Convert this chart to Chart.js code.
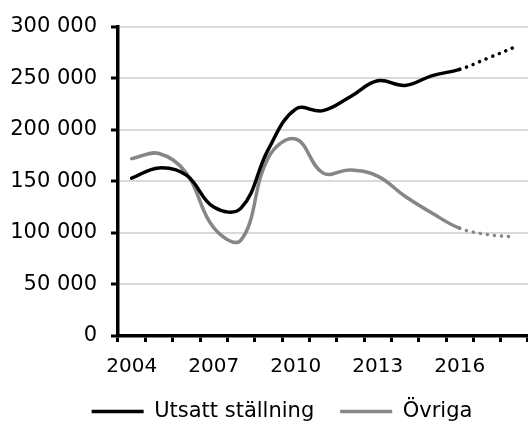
<!DOCTYPE html>
<html>
<head>
<meta charset="utf-8">
<script src="https://cdn.jsdelivr.net/npm/chart.js@4/dist/chart.umd.min.js"></script>
<style>
  html, body { margin: 0; padding: 0; background: #fff; }
  #wrap { width: 528px; height: 424px; }
</style>
</head>
<body>
<div id="wrap"><canvas id="chart"></canvas></div>
<script>
const years = ['2004','2005','2006','2007','2008','2009','2010','2011','2012','2013','2014','2015','2016','2017','2018']
const utsatt = [153000, 163000, 156000, 125000, 124000, 181000, 220000, 218500, 232000, 247500, 243000, 252500, 258500, 269000, 280000]
const ovriga = [172000, 177000, 158000, 105000, 93000, 173000, 191000, 158000, 161000, 155000, 135500, 119000, 104500, 98500, 96000]
const forecastFrom = 12 // 2016 onwards is dotted

function spaced(v) {
    return String(v).replace(/\B(?=(\d{3})+(?!\d))/g, ' ')
}

const dotted = ctx => ctx.p0DataIndex >= forecastFrom ? [0.1, 7] : undefined

// legend sits a bit right of centre in the original
const legendShift = {
    id: 'legendShift',
    afterLayout(chart) {
        chart.legend.left += 18
        chart.legend.right += 18
    }
}

Chart.defaults.font.family = 'DejaVu Sans'
Chart.defaults.font.size = 20
Chart.defaults.color = '#000'

new Chart(document.getElementById('chart'), {
    type: 'line',
    data: {
        labels: years,
        datasets: [
            {
                label: 'Utsatt ställning',
                data: utsatt,
                borderColor: '#000',
                backgroundColor: '#000',
                borderWidth: 3.5,
                borderCapStyle: 'round',
                pointRadius: 0,
                tension: 0.4,
                pointStyle: 'line',
                segment: { borderDash: dotted }
            },
            {
                label: 'Övriga',
                data: ovriga,
                borderColor: '#868686',
                backgroundColor: '#868686',
                borderWidth: 3.5,
                borderCapStyle: 'round',
                pointRadius: 0,
                tension: 0.4,
                pointStyle: 'line',
                segment: { borderDash: dotted }
            }
        ]
    },
    plugins: [legendShift],
    options: {
        responsive: true,
        maintainAspectRatio: false,
        animation: false,
        layout: { padding: { top: 12, left: 0, right: 0, bottom: -8 } },
        plugins: {
            legend: {
                position: 'bottom',
                labels: {
                    usePointStyle: true,
                    pointStyleWidth: 52,
                    boxHeight: 4,
                    padding: 26,
                    font: { size: 21 }
                }
            },
            tooltip: { enabled: false }
        },
        scales: {
            x: {
                offset: true,
                afterFit: s => { s.height = 39 },
                grid: {
                    offset: true,
                    drawOnChartArea: false,
                    drawTicks: true,
                    tickLength: 6,
                    tickWidth: 3,
                    tickColor: '#000'
                },
                border: { color: '#000', width: 3.5 },
                ticks: {
                    autoSkip: false,
                    maxRotation: 0,
                    padding: 13,
                    callback: function (v, i) {
                        return i % 3 === 0 ? this.getLabelForValue(v) : ''
                    }
                }
            },
            y: {
                min: 0,
                max: 300000,
                afterFit: s => { s.width = 118 },
                grid: {
                    color: '#d9d9d9',
                    lineWidth: 2,
                    tickLength: 7,
                    tickWidth: 3,
                    tickColor: '#000'
                },
                border: { color: '#000', width: 3.5 },
                ticks: {
                    stepSize: 50000,
                    padding: 14,
                    font: { size: 21 },
                    callback: v => spaced(v)
                }
            }
        }
    }
})
</script>
</body>
</html>
